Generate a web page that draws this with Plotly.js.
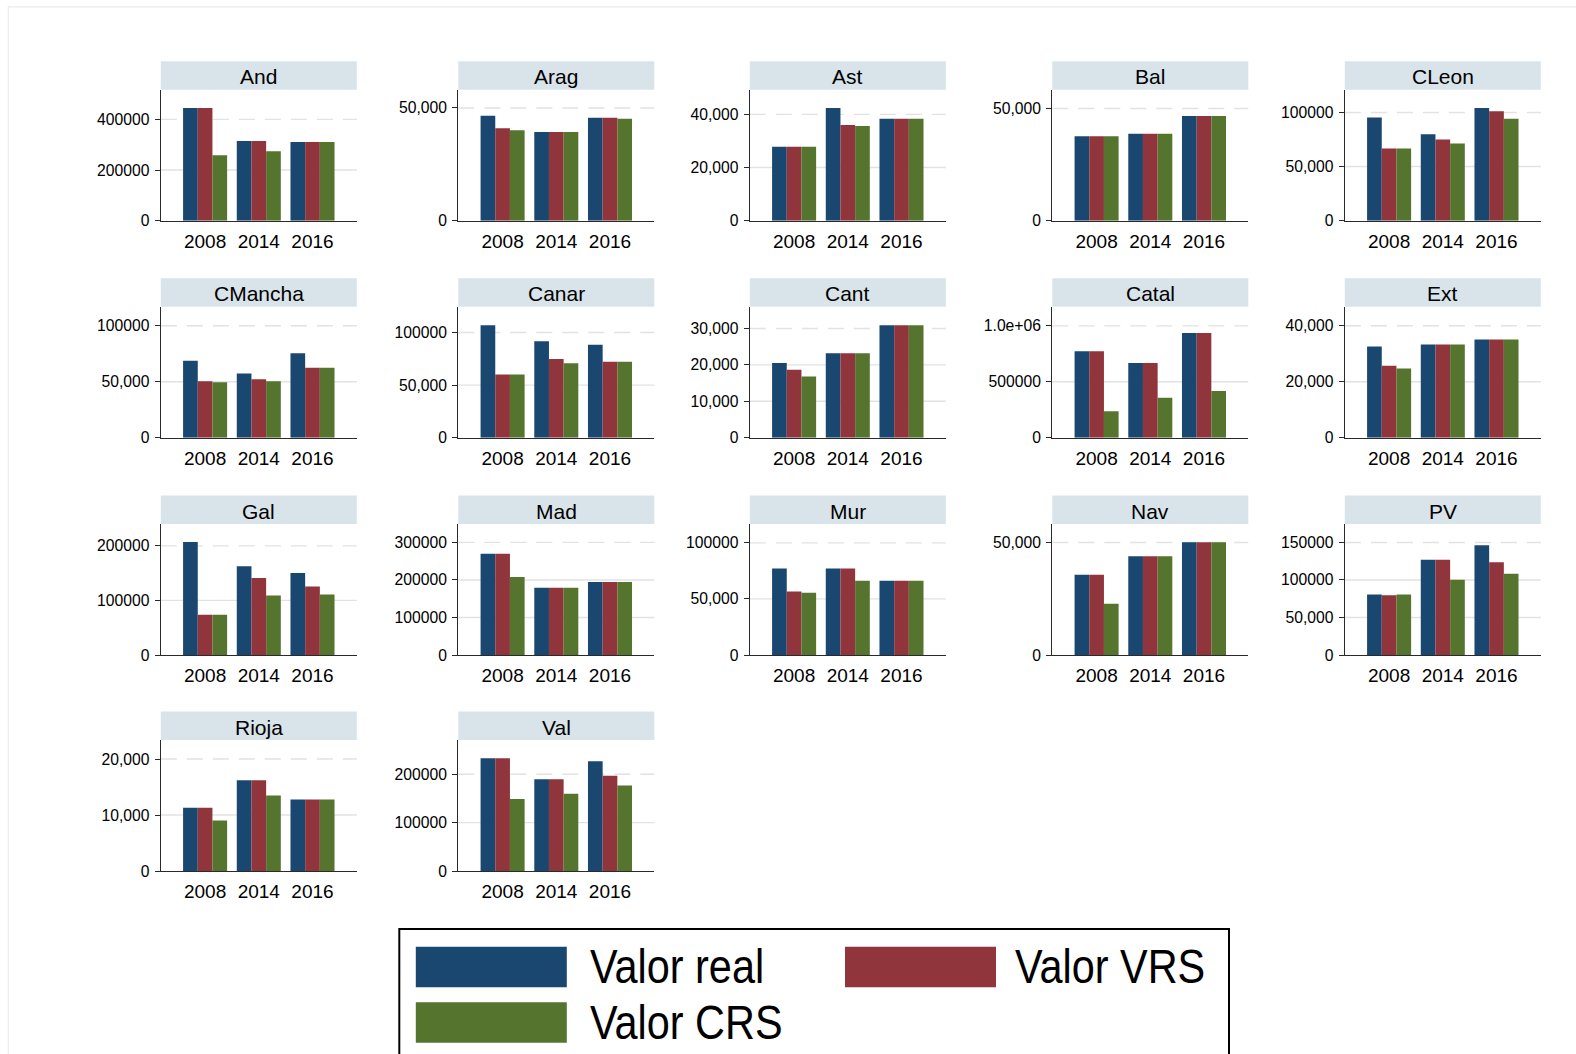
<!DOCTYPE html>
<html>
<head>
<meta charset="utf-8">
<script src="https://cdn.plot.ly/plotly-3.0.1.min.js"></script>
<style>
  html, body { margin: 0; padding: 0; background: #ffffff; }
  #chart { width: 1576px; height: 1054px; }
</style>
</head>
<body>
<div id="chart"></div>
<script>
// Regions (one small panel each) and the three reference years
const regions = ['And', 'Arag', 'Ast', 'Bal', 'CLeon', 'CMancha', 'Canar', 'Cant', 'Catal',
                 'Ext', 'Gal', 'Mad', 'Mur', 'Nav', 'PV', 'Rioja', 'Val'];
const years = ['2008', '2014', '2016'];

// Series names
const seriesNames = ['Valor real', 'Valor VRS', 'Valor CRS'];

// Observed value per region and year
const valorReal = [
  [445000, 315000, 311000],
  [46600, 39300, 45700],
  [27800, 42400, 38400],
  [37600, 38800, 46700],
  [95400, 79900, 104000],
  [68800, 57400, 75400],
  [107000, 91700, 88500],
  [20500, 23200, 30900],
  [772000, 667000, 937000],
  [32600, 33300, 35100],
  [206800, 162500, 150200],
  [269500, 179000, 194300],
  [77200, 77200, 66200],
  [35700, 43900, 50100],
  [80600, 127100, 146400],
  [11300, 16200, 12750],
  [233000, 189600, 227000]
];

// Efficient value under variable returns to scale
const valorVRS = [
  [445000, 315000, 311000],
  [41000, 39300, 45700],
  [27800, 36000, 38400],
  [37600, 38800, 46700],
  [66600, 74900, 101200],
  [50500, 52300, 62500],
  [60100, 74800, 72200],
  [18700, 23200, 30900],
  [772000, 667000, 937000],
  [25700, 33300, 35100],
  [73800, 140900, 125500],
  [269500, 179000, 194300],
  [56600, 77200, 66200],
  [35700, 43900, 50100],
  [79700, 127100, 123500],
  [11300, 16200, 12750],
  [233000, 189600, 197000]
];

// Efficient value under constant returns to scale
const valorCRS = [
  [258000, 274000, 311000],
  [40100, 39300, 45200],
  [27800, 35600, 38400],
  [37600, 38800, 46700],
  [66600, 71200, 94100],
  [49500, 50500, 62500],
  [60100, 70900, 72200],
  [16800, 23200, 30900],
  [237000, 357000, 417000],
  [24700, 33300, 35100],
  [73800, 108900, 110800],
  [207700, 179000, 194300],
  [55400, 66200, 66200],
  [22800, 43900, 50100],
  [80600, 100300, 108300],
  [9040, 13500, 12750],
  [149000, 159700, 177000]
];

// Upper end of each panel's value axis
const axisTop = [517000, 58100, 49300, 58400, 121000, 117000, 124600, 36000, 1171000,
                 46800, 240000, 349000, 116800, 58200, 174600, 23400, 270800];

// Value-axis ticks and their labels, per panel
const yTickVals = [
  [0, 200000, 400000],
  [0, 50000],
  [0, 20000, 40000],
  [0, 50000],
  [0, 50000, 100000],
  [0, 50000, 100000],
  [0, 50000, 100000],
  [0, 10000, 20000, 30000],
  [0, 500000, 1000000],
  [0, 20000, 40000],
  [0, 100000, 200000],
  [0, 100000, 200000, 300000],
  [0, 50000, 100000],
  [0, 50000],
  [0, 50000, 100000, 150000],
  [0, 10000, 20000],
  [0, 100000, 200000]
];
const yTickText = [
  ['0', '200000', '400000'],
  ['0', '50,000'],
  ['0', '20,000', '40,000'],
  ['0', '50,000'],
  ['0', '50,000', '100000'],
  ['0', '50,000', '100000'],
  ['0', '50,000', '100000'],
  ['0', '10,000', '20,000', '30,000'],
  ['0', '500000', '1.0e+06'],
  ['0', '20,000', '40,000'],
  ['0', '100000', '200000'],
  ['0', '100000', '200000', '300000'],
  ['0', '50,000', '100000'],
  ['0', '50,000'],
  ['0', '50,000', '100000', '150000'],
  ['0', '10,000', '20,000'],
  ['0', '100000', '200000']
];

// ---- page geometry (pixels) ----
const W = 1576, H = 1054;
const colLeft = [160.8, 458.3, 749.8, 1052.3, 1344.8];
const plotW = 196;
const rowBottom = [220.7, 437.7, 655.0, 871.0];
const plotH = 131;
const stripH = 28.5;
const nCols = 5;

const colors = ['#1a476f', '#90353b', '#55752f'];
const FONT = 'Liberation Sans, Arial, Helvetica, sans-serif';
const KEY_STRETCH = 0.845;   // key labels are set in a narrow cut

const px = x => x / W;
const py = y => 1 - y / H;

const seriesData = [valorReal, valorVRS, valorCRS];
const traces = [];
const shapes = [];
const annotations = [];
const layout = {
  width: W, height: H,
  margin: {l: 0, r: 0, t: 0, b: 0},
  paper_bgcolor: '#ffffff',
  plot_bgcolor: 'rgba(0,0,0,0)',
  barmode: 'group',
  bargap: 0.18,
  bargroupgap: 0,
  showlegend: false,
  font: {family: FONT, color: '#000000'}
};

regions.forEach((name, i) => {
  const r = Math.floor(i / nCols), c = i % nCols;
  const k = i === 0 ? '' : String(i + 1);
  const xa = 'x' + k, ya = 'y' + k;
  const x0 = colLeft[c], x1 = colLeft[c] + plotW;
  const yb = rowBottom[r], yt = rowBottom[r] - plotH;

  layout['xaxis' + k] = {
    domain: [px(x0), px(x1)],
    anchor: ya,
    type: 'category',
    categoryorder: 'array',
    categoryarray: years,
    range: [-0.825, 2.825],
    showline: true, linecolor: '#2a2a2a', linewidth: 1.2,
    showgrid: false, zeroline: false,
    ticks: '', ticklen: 0,
    tickfont: {family: FONT, size: 19, color: '#000000'},
    ticklabelstandoff: 3,
    fixedrange: true
  };
  layout['yaxis' + k] = {
    domain: [py(yb), py(yt)],
    anchor: xa,
    range: [0, axisTop[i]],
    showline: true, linecolor: '#2a2a2a', linewidth: 1.2,
    showgrid: false, zeroline: false,
    ticks: 'outside', ticklen: 5, tickwidth: 1, tickcolor: '#2a2a2a',
    tickmode: 'array', tickvals: yTickVals[i], ticktext: yTickText[i],
    tickfont: {family: FONT, size: 15.7, color: '#000000'},
    ticklabelstandoff: 2,
    fixedrange: true
  };

  seriesData.forEach((arr, s) => {
    traces.push({
      type: 'bar',
      name: seriesNames[s],
      x: years,
      y: arr[i],
      xaxis: xa, yaxis: ya,
      marker: {color: colors[s], line: {width: 0}},
      hoverinfo: 'skip'
    });
  });

  // light grid lines; the highest one is dashed
  const vals = yTickVals[i].filter(v => v > 0);
  vals.forEach((v, j) => {
    shapes.push({
      type: 'line', layer: 'below',
      xref: xa + ' domain', x0: 0, x1: 1,
      yref: ya, y0: v, y1: v,
      line: {color: '#e2e2e2', width: 1.4, dash: j === vals.length - 1 ? '16px,10px' : 'solid'}
    });
  });

  // title strip above each panel
  shapes.push({
    type: 'rect', layer: 'below',
    xref: 'paper', yref: 'paper',
    x0: px(x0), x1: px(x1), y0: py(yt), y1: py(yt - stripH),
    fillcolor: '#d8e4ea', line: {width: 0}
  });
  annotations.push({
    xref: 'paper', yref: 'paper',
    x: px((x0 + x1) / 2), y: py(yt - stripH / 2 + 1.5),
    xanchor: 'center', yanchor: 'middle',
    text: name, showarrow: false,
    font: {family: FONT, size: 21, color: '#000000'}
  });
});

// outer frame of the graph region
shapes.push({
  type: 'rect', xref: 'paper', yref: 'paper',
  x0: px(8.3), x1: px(W + 10), y0: py(H + 10), y1: py(6.8),
  line: {color: '#e8eded', width: 1.2}, fillcolor: 'rgba(0,0,0,0)'
});

// key box
shapes.push({
  type: 'rect', xref: 'paper', yref: 'paper',
  x0: px(399.3), x1: px(1229), y0: py(H + 10), y1: py(929),
  line: {color: '#000000', width: 2}, fillcolor: 'rgba(0,0,0,0)'
});
const keySpots = [
  {x: 415.8, y: 946.7, tx: 588},
  {x: 845, y: 946.7, tx: 1013},
  {x: 415.8, y: 1002.3, tx: 588}
];
keySpots.forEach((k, s) => {
  shapes.push({
    type: 'rect', xref: 'paper', yref: 'paper',
    x0: px(k.x), x1: px(k.x + 151), y0: py(k.y + 40.5), y1: py(k.y),
    fillcolor: colors[s], line: {width: 0}
  });
  annotations.push({
    xref: 'paper', yref: 'paper',
    x: px(k.tx), y: py(k.y + 19.5),
    xanchor: 'left', yanchor: 'middle',
    text: seriesNames[s], showarrow: false,
    font: {family: FONT, size: 49, color: '#000000'}
  });
});

layout.shapes = shapes;
layout.annotations = annotations;

Plotly.newPlot('chart', traces, layout, {displayModeBar: false, staticPlot: true}).then(gd => {
  // condense the key labels horizontally, keeping their left edge in place
  gd.querySelectorAll('text.annotation-text').forEach(t => {
    if (!seriesNames.includes(t.textContent)) return;
    const bb = t.getBBox();
    const x = bb.x;
    t.setAttribute('transform',
      'translate(' + (x * (1 - KEY_STRETCH)) + ',0) scale(' + KEY_STRETCH + ',1)');
  });
});
</script>
</body>
</html>
